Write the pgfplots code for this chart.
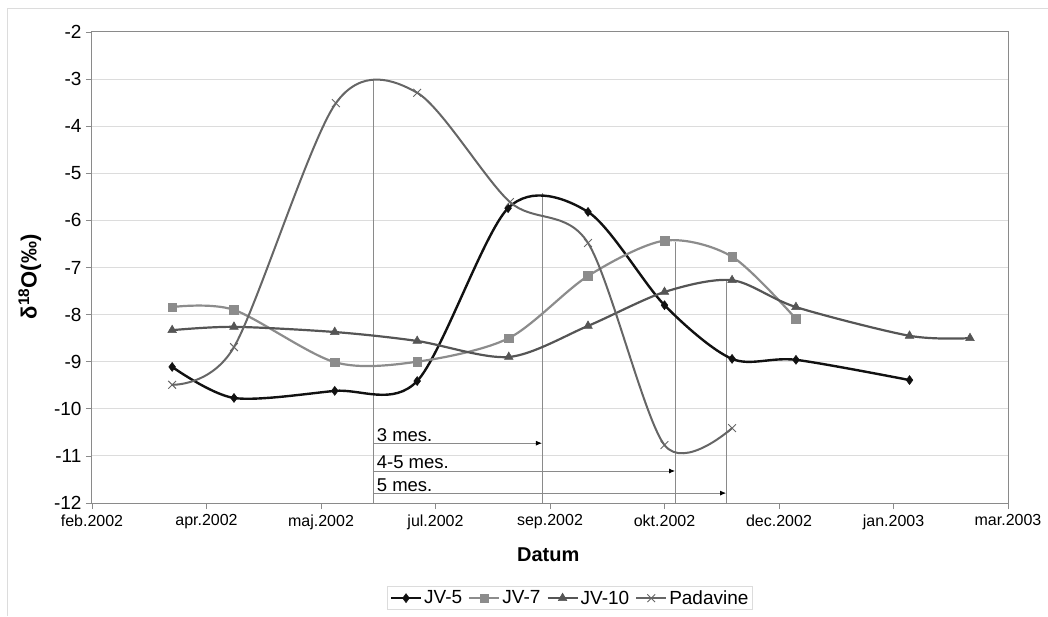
\documentclass[border=0pt]{standalone}
\usepackage{pgfplots}
\pgfplotsset{compat=1.18}
\usepackage{fontspec}
\setmainfont{Liberation Sans}
\usetikzlibrary{arrows.meta}
\definecolor{cA}{HTML}{111111}
\definecolor{cB}{HTML}{8C8C8C}
\definecolor{cC}{HTML}{555555}
\definecolor{cD}{HTML}{666666}
\definecolor{gridc}{HTML}{DCDCDC}
\definecolor{axc}{HTML}{8A8A8A}
\begin{document}
\begin{tikzpicture}
\useasboundingbox (-92pt,-113pt) rectangle (956pt,503pt);
\draw[gridc,line width=1pt] (-84pt,-113pt) -- (-84pt,494pt) -- (956pt,494pt);
\begin{axis}[
  at={(0pt,0pt)}, anchor=south west,
  scale only axis, width=916pt, height=471pt,
  xmin=0, xmax=400, ymin=-12, ymax=-2,
  xtick={0,50,...,400},
  xticklabels={feb.2002,apr.2002,maj.2002,jul.2002,sep.2002,okt.2002,dec.2002,jan.2003,mar.2003},
  ytick={-12,-11,...,-2},
  yticklabels={-12,-11,-10,-9,-8,-7,-6,-5,-4,-3,-2},
  tick align=outside, major tick length=6pt,
  xtick pos=bottom, ytick pos=left,
  tick style={axc, line width=0.8pt},
  axis line style={axc, line width=1pt},
  ymajorgrids, grid style={gridc, line width=1pt},
  yticklabel style={font=\fontsize{19}{21}\selectfont, xshift=-1pt},
  xticklabel style={font=\fontsize{16}{18}\selectfont, yshift=-2pt},
  xlabel={\textbf{Datum}},
  xlabel style={font=\fontsize{20}{22}\selectfont, at={(axis description cs:0.498,-0.11)}, anchor=center},
  ylabel={\textbf{δ\textsuperscript{18}O(‰)}},
  ylabel style={font=\fontsize{22}{24}\selectfont, at={(axis description cs:-0.068,0.48)}, anchor=center},
  legend columns=4,
  legend style={at={(0.522,-0.202)}, anchor=center, draw=gridc, line width=1pt,
    font=\fontsize{19}{21}\selectfont, inner sep=2pt,
    /tikz/every even column/.append style={column sep=4pt}},
  legend image code/.code={\draw[mark repeat=2,mark phase=2,#1] plot coordinates {(0pt,0pt) (15pt,0pt) (30pt,0pt)};},
  clip=false,
]
% annotation vertical lines
\draw[axc, line width=0.8pt] (axis cs:122.7,-3.02) -- (axis cs:122.7,-12);
\draw[axc, line width=0.8pt] (axis cs:196.5,-5.42) -- (axis cs:196.5,-12);
\draw[axc, line width=0.8pt] (axis cs:254.6,-6.46) -- (axis cs:254.6,-12);
\draw[axc, line width=0.8pt] (axis cs:276.9,-7.27) -- (axis cs:276.9,-12);
% arrows
\draw[axc, line width=0.8pt, -{Latex[length=6pt,width=5pt,black]}] (axis cs:122.7,-10.73) -- (axis cs:196.5,-10.73);
\draw[axc, line width=0.8pt, -{Latex[length=6pt,width=5pt,black]}] (axis cs:122.7,-11.32) -- (axis cs:254.6,-11.32);
\draw[axc, line width=0.8pt, -{Latex[length=6pt,width=5pt,black]}] (axis cs:122.7,-11.79) -- (axis cs:276.9,-11.79);
\node[anchor=west, font=\fontsize{18.5}{20}\selectfont, inner sep=0pt] at (axis cs:124.3,-10.556) {3 mes.};
\node[anchor=west, font=\fontsize{18.5}{20}\selectfont, inner sep=0pt] at (axis cs:124.3,-11.13) {4-5 mes.};
\node[anchor=west, font=\fontsize{18.5}{20}\selectfont, inner sep=0pt] at (axis cs:124.3,-11.62) {5 mes.};

\addplot[cA, line width=2.4pt, smooth, mark=diamond*, mark size=4.5pt, mark options={solid, fill=cA, line width=0.5pt}] coordinates {
(35,-9.11) (62,-9.77) (106,-9.62) (142,-9.41) (181.7,-5.74) (216.6,-5.82) (250,-7.80) (279.5,-8.94) (307.4,-8.96) (357,-9.39)};
\addlegendentry{JV-5}
\addplot[cB, line width=2.2pt, smooth, mark=square*, mark size=4.3pt, mark options={solid, fill=cB, line width=0.5pt}] coordinates {
(35,-7.84) (62,-7.90) (106,-9.01) (142,-9.00) (182,-8.50) (216.6,-7.18) (250,-6.43) (279.5,-6.77) (307.4,-8.09)};
\addlegendentry{JV-7}
\addplot[cC, line width=2.2pt, smooth, mark=triangle*, mark size=5pt, mark options={solid, fill=cC, line width=0.5pt}] coordinates {
(35,-8.33) (62,-8.26) (106,-8.37) (142,-8.56) (182,-8.90) (216.6,-8.24) (250,-7.52) (279.5,-7.27) (307.4,-7.84) (357,-8.45) (383.4,-8.50)};
\addlegendentry{JV-10}
\addplot[cD, line width=2pt, smooth, mark=x, mark size=5.5pt, mark options={solid, line width=0.9pt}] coordinates {
(35,-9.49) (62,-8.69) (106.5,-3.51) (142,-3.29) (182.5,-5.61) (216.6,-6.48) (250,-10.77) (279.5,-10.41)};
\addlegendentry{Padavine}
\end{axis}
\end{tikzpicture}
\end{document}
